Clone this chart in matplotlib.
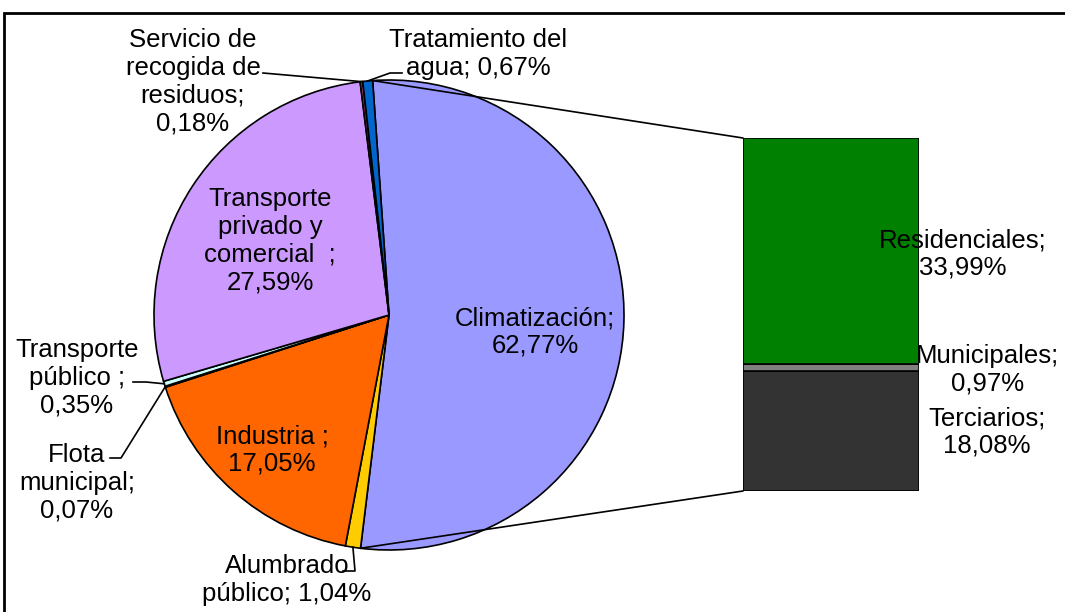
import numpy as np
import matplotlib.pyplot as plt
from matplotlib.patches import ConnectionPatch, Rectangle

plt.rcParams['font.family'] = ['Liberation Sans', 'DejaVu Sans']

# slices of the pie (clockwise from the top); the first one is split into the bar
categorias = ["Climatización", "Alumbrado público", "Industria", "Flota municipal",
              "Transporte público", "Transporte privado y comercial",
              "Servicio de recogida de residuos", "Tratamiento del agua"]
etiquetas = ["Climatización;\n62,77%", "Alumbrado\npúblico; 1,04%", "Industria ;\n17,05%",
             "Flota\nmunicipal;\n0,07%", "Transporte\npúblico ;\n0,35%",
             "Transporte\nprivado y\ncomercial  ;\n27,59%",
             "Servicio de\nrecogida de\nresiduos;\n0,18%", "Tratamiento del\nagua; 0,67%"]
otros = [1.04, 17.05, 0.07, 0.35, 27.59, 0.18, 0.67]
colores_pie = ["#9999FF", "#FFCC00", "#FF6600", "#000080",
               "#CCFFFF", "#CC99FF", "#993366", "#0066CC"]

# bar (bottom to top)
bar_cats = ["Terciarios", "Municipales", "Residenciales"]
bar_vals = [18.08, 0.97, 33.99]
bar_etiq = ["Terciarios;\n18,08%", "Municipales;\n0,97%", "Residenciales;\n33,99%"]
colores_bar = ["#333333", "#808080", "#008000"]

pie_vals = [sum(bar_vals)] + otros

W, H = 1065, 612
fig = plt.figure(figsize=(W / 100, H / 100), dpi=100)

# pie: centre (389,315) px, radius 235 px
cx, cy, r = 389, 315, 235
ax = fig.add_axes([(cx - r) / W, (H - cy - r) / H, 2 * r / W, 2 * r / H])
wedges, _ = ax.pie(pie_vals, colors=colores_pie, startangle=94, counterclock=False,
                   radius=1, wedgeprops=dict(edgecolor="black", linewidth=1.2))
ax.set_xlim(-1, 1)
ax.set_ylim(-1, 1)
ax.axis("off")


def px(x, y):
    return (x - cx) / r, (cy - y) / r


# bar
axb = fig.add_axes([743 / W, (H - 491) / H, 176 / W, 353 / H])
abajo = 0
for v, c in zip(bar_vals, colores_bar):
    axb.bar(0, v, bottom=abajo, width=1, color=c, edgecolor="black", linewidth=1.2)
    abajo += v
axb.set_xlim(-0.5, 0.5)
axb.set_ylim(0, sum(bar_vals))
axb.axis("off")

# connector lines from the split slice to the bar
w0 = wedges[0]
for ang, yb in [(w0.theta2, 1), (w0.theta1, 0)]:
    a = np.deg2rad(ang)
    con = ConnectionPatch(xyA=(np.cos(a), np.sin(a)), coordsA=ax.transData,
                          xyB=(0, yb), coordsB=axb.transAxes, color="black", lw=1.2)
    fig.add_artist(con)

fs = 18.5
ls = 1.2
# label positions (px) for each slice
pos = {0: (535, 332), 1: (287, 580), 2: (272, 450), 3: (77, 483),
       4: (77, 378), 5: (270, 241), 6: (193, 82), 7: (478, 54)}
for i, (x, y) in pos.items():
    fig.text(x / W, 1 - y / H, etiquetas[i], ha="center", va="center",
             fontsize=fs, linespacing=ls)

bpos = [(987, 432), (988, 370), (963, 254)]
for (x, y), t in zip(bpos, bar_etiq):
    fig.text(x / W, 1 - y / H, t, ha="center", va="center",
             fontsize=fs, linespacing=ls)

# leader lines for the thin slices
guias = {6: [(263, 73)], 7: [(402, 73), (390, 73)], 4: [(133, 382), (146, 382)],
         3: [(110, 458), (121, 458)], 1: [(343, 571), (355, 571)]}
for i, pts in guias.items():
    w = wedges[i]
    a = np.deg2rad((w.theta1 + w.theta2) / 2)
    xs = [px(*p)[0] for p in pts] + [np.cos(a)]
    ys = [px(*p)[1] for p in pts] + [np.sin(a)]
    ax.plot(xs, ys, color="black", lw=1.2, clip_on=False)

# chart frame
fig.add_artist(Rectangle((4 / W, -0.1), 1.2, 1 - 13 / H + 0.1, transform=fig.transFigure,
                         fill=False, edgecolor="black", lw=2))

fig.savefig("out.png", dpi=100)
